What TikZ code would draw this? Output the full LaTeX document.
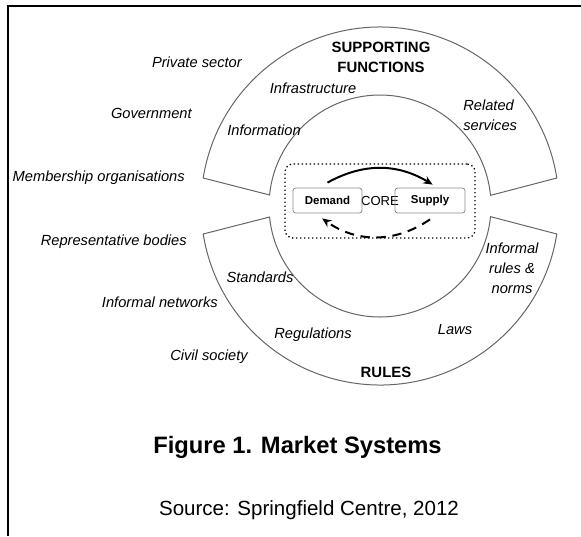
\documentclass[tikz,border=0pt]{standalone}
\usepackage{fontspec}
\setmainfont{Liberation Sans}
\usetikzlibrary{arrows.meta,calc}
\begin{document}
\begin{tikzpicture}[x=0.75pt,y=0.75pt,
  ring/.style={draw=black!60,line width=0.75pt},
  lab/.style={font=\fontsize{11}{15}\selectfont\itshape,inner sep=0pt,align=center},
  head/.style={font=\fontsize{11.2}{15}\selectfont\bfseries,inner sep=0pt,align=center},
  agent/.style={draw=black!45,line width=0.6pt,rounded corners=2pt,minimum height=18.75pt,
    inner sep=0pt,font=\fontsize{8.6}{10}\selectfont\bfseries},
  coredot/.style={draw,dotted,line width=1pt,rounded corners=6pt,minimum width=142.5pt,
    minimum height=55.5pt,inner sep=0pt,font=\fontsize{9.8}{12}\selectfont},
  flow/.style={line width=1.5pt,-{Stealth[length=7pt,width=6pt]}}
]
\useasboundingbox (0,0) rectangle (581,-536);

% page frame (top and left rules)
\draw[line width=1.5pt] (581,-6) -- (8,-6) -- (8,-536);

% the two bands around the core
\coordinate (C) at (380,-206);
\draw[ring] ($(C)+(9:179)$) arc[start angle=9,end angle=171,radius=179]
  -- ($(C)+(174.3:111)$) arc[start angle=174.3,end angle=5.5,radius=111] -- cycle;
\draw[ring] ($(C)+(-9:179)$) arc[start angle=-9,end angle=-171,radius=179]
  -- ($(C)+(-174.3:111)$) arc[start angle=-174.3,end angle=-5.5,radius=111] -- cycle;

% core: demand and supply
\node[coredot] (core) at (380,-201) {CORE};
\node[agent,minimum width=51.75pt] (demand) at (327.5,-200.5) {Demand};
\node[agent,minimum width=52.5pt] (supply) at (430,-200.5) {Supply};
\draw[flow] ([yshift=3.75pt]demand.north) to[bend left=30] ([xshift=2pt,yshift=2.25pt]supply.north);
\draw[flow,dash pattern=on 7pt off 5pt] ([yshift=-4.5pt]supply.south) to[bend left=35] ([xshift=-4pt,yshift=-3.75pt]demand.south);

% supporting functions
\node[head] (sf) at (381,-57) {SUPPORTING\\FUNCTIONS};
\node[lab] (infra) at (313,-88) {Infrastructure};
\node[lab] (info) at (264,-130) {Information};
\node[lab,align=left,anchor=west] (rel) at (463,-115) {Related\\services};

% rules
\node[head] (rules) at (386,-372) {RULES};
\node[lab] (std) at (260,-277) {Standards};
\node[lab] (reg) at (313,-335) {Regulations};
\node[lab] (laws) at (455,-330) {Laws};
\node[lab] (norms) at (512,-268) {Informal\\rules \&\\norms};

% players
\node[lab,anchor=east] (priv) at (242,-62) {Private sector};
\node[lab,anchor=east] (gov) at (192,-113) {Government};
\node[lab,anchor=east] (memb) at (185,-178) {Membership organisations};
\node[lab,anchor=east] (repr) at (187,-242) {Representative bodies};
\node[lab,anchor=east] (netw) at (218,-302) {Informal networks};
\node[lab,anchor=east] (civil) at (248,-357) {Civil society};

% caption
\node[font=\fontsize{17.8}{20}\selectfont\bfseries,inner sep=0pt] (cap) at (297.5,-447) {Figure 1. Market Systems};
\node[font=\fontsize{15.4}{18}\selectfont,inner sep=0pt] (src) at (309,-510) {Source: Springfield Centre, 2012};
\end{tikzpicture}
\end{document}
